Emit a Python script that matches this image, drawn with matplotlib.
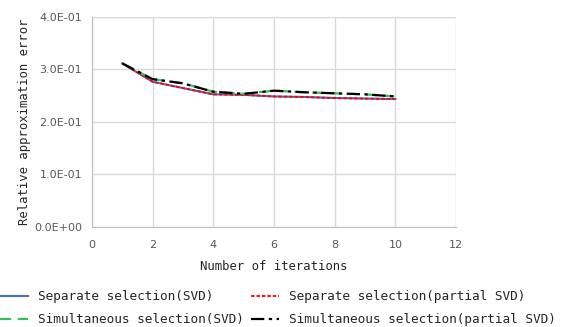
import matplotlib.pyplot as plt
from matplotlib.ticker import FuncFormatter

iterations = [1, 2, 3, 4, 5, 6, 7, 8, 9, 10]
sep_svd = [0.311, 0.276, 0.264, 0.252, 0.251, 0.248, 0.247, 0.245, 0.244, 0.243]
sep_partial = [0.311, 0.276, 0.264, 0.252, 0.251, 0.248, 0.247, 0.245, 0.244, 0.243]
sim_svd = [0.311, 0.281, 0.273, 0.257, 0.253, 0.259, 0.256, 0.254, 0.252, 0.248]
sim_partial = [0.311, 0.281, 0.273, 0.257, 0.253, 0.259, 0.256, 0.254, 0.252, 0.248]

mono = 'DejaVu Sans Mono'

fig = plt.figure(figsize=(5.78, 3.27), dpi=100)
ax = fig.add_axes([0.159, 0.307, 0.63, 0.642])

l1, = ax.plot(iterations, sep_svd, color='#4472C4', lw=1.5, ls='-',
              label='Separate selection(SVD)')
l2, = ax.plot(iterations, sep_partial, color='#FF0000', lw=1.3, ls=(0, (2, 1)),
              label='Separate selection(partial SVD)')
l3, = ax.plot(iterations, sim_svd, color='#33C05A', lw=1.6, ls=(0, (5, 3)),
              label='Simultaneous selection(SVD)')
l4, = ax.plot(iterations, sim_partial, color='#000000', lw=1.6,
              ls=(0, (6, 2, 1.5, 2)),
              label='Simultaneous selection(partial SVD)')

ax.set_xlim(0, 12)
ax.set_ylim(0, 0.4)
ax.set_xticks(range(0, 13, 2))
ax.set_yticks([0, 0.1, 0.2, 0.3, 0.4])
ax.yaxis.set_major_formatter(FuncFormatter(lambda v, p: f'{v:.1E}'))
ax.grid(True, color='#D9D9D9', lw=1)
ax.set_axisbelow(True)
for s in ['top', 'right']:
    ax.spines[s].set_visible(False)
for s in ['left', 'bottom']:
    ax.spines[s].set_color('#BFBFBF')
ax.tick_params(length=0, labelsize=8, colors='#595959')
ax.tick_params(axis='x', pad=10)
ax.tick_params(axis='y', pad=7)

ax.set_xlabel('Number of iterations', family=mono, fontsize=8.8,
              color='#262626', labelpad=7)
ax.set_ylabel('Relative approximation error', family=mono, fontsize=8.8,
              color='#262626', labelpad=2)

# row-major order like the original legend
fig.legend([l1, l3, l2, l4],
           [l1.get_label(), l3.get_label(), l2.get_label(), l4.get_label()],
           loc='lower left', bbox_to_anchor=(0.0, 0.003), ncol=2,
           frameon=False, prop={'family': mono, 'size': 9.2},
           borderpad=0, borderaxespad=0,
           handlelength=2.2, handletextpad=0.75, columnspacing=0.6,
           labelspacing=0.75, labelcolor='#262626')

fig.savefig('out.png', dpi=100)
